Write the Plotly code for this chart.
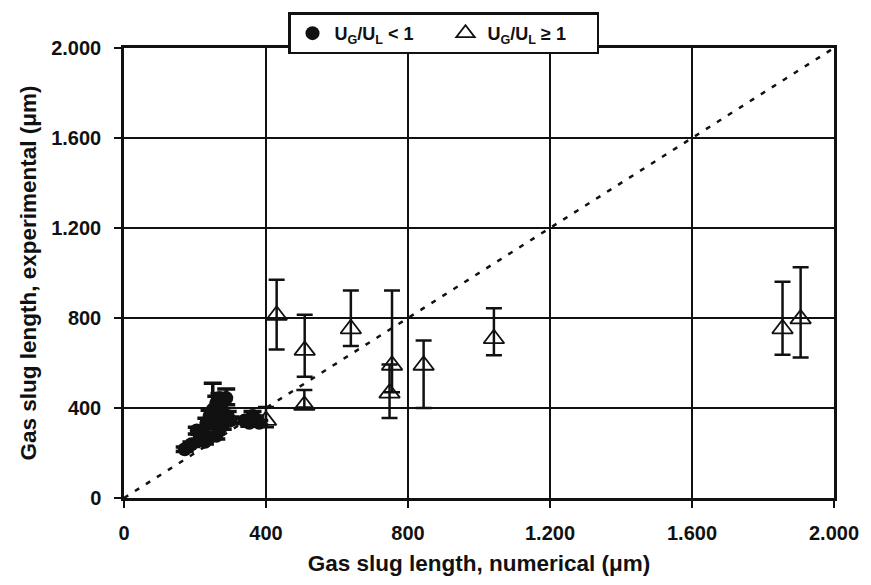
import plotly.graph_objects as go

# U_G/U_L < 1 (filled circles)
circ_x = [171, 190, 213, 222, 232, 241, 250, 260, 269, 288, 292, 278, 260, 362, 353, 381, 228, 245, 275, 300, 340, 370, 205, 265]
circ_y = [217, 239, 268, 299, 334, 365, 393, 422, 444, 444, 365, 321, 277, 365, 334, 334, 250, 330, 400, 345, 345, 350, 300, 360]
circ_up = [10, 10, 15, 20, 20, 25, 117, 30, 20, 40, 20, 15, 15, 20, 15, 10, 10, 20, 30, 15, 10, 15, 15, 20]
circ_dn = [10, 10, 15, 20, 20, 25, 40, 30, 20, 30, 20, 15, 15, 20, 15, 10, 10, 20, 30, 15, 10, 15, 15, 20]

# U_G/U_L >= 1 (open triangles)
tri_x = [430, 509, 639, 755, 748, 508, 844, 1042, 1855, 1906, 400]
tri_y = [812, 656, 752, 590, 466, 412, 590, 708, 752, 796, 345]
tri_up = [158, 159, 170, 332, 127, 68, 110, 135, 209, 230, 60]
tri_dn = [152, 117, 76, 120, 110, 10, 190, 74, 115, 172, 30]

diag = [0, 2000]

FONT = "Liberation Sans, Arial, sans-serif"

fig = go.Figure()

fig.add_trace(go.Scatter(
    x=diag, y=diag, mode="lines", showlegend=False,
    line=dict(color="#111111", width=2.5, dash="5px,8px"),
    hoverinfo="skip",
))

fig.add_trace(go.Scatter(
    x=circ_x, y=circ_y, mode="markers", name="U<sub>G</sub>/U<sub>L</sub> < 1",
    marker=dict(symbol="circle", size=14, color="#111111"),
    error_y=dict(type="data", symmetric=False, array=circ_up, arrayminus=circ_dn,
                 color="#111111", thickness=3.5, width=9),
))

fig.add_trace(go.Scatter(
    x=tri_x, y=tri_y, mode="markers", name="U<sub>G</sub>/U<sub>L</sub> ≥ 1",
    marker=dict(symbol="triangle-up-open", size=18, color="#111111",
                line=dict(width=1.8, color="#111111")),
    error_y=dict(type="data", symmetric=False, array=tri_up, arrayminus=tri_dn,
                 color="#111111", thickness=2.5, width=8),
))

axis_common = dict(
    range=[0, 2000], tickvals=[0, 400, 800, 1200, 1600, 2000],
    tickformat=",.0f",
    showgrid=True, gridcolor="#111111", gridwidth=2,
    showline=True, linecolor="#111111", linewidth=2.5, mirror=True,
    ticks="outside", ticklen=7, tickwidth=2, tickcolor="#111111",
    zeroline=False,
    tickfont=dict(family=FONT, size=20, color="#111111", weight="bold"),
)

fig.update_layout(
    width=871, height=585,
    margin=dict(l=124, r=34, t=46, b=84),
    paper_bgcolor="white", plot_bgcolor="white",
    separators=",.",
    font=dict(family=FONT, color="#111111"),
    xaxis=dict(**axis_common, ticklabelstandoff=8,
               title=dict(text="Gas slug length, numerical (μm)", standoff=13,
                          font=dict(family=FONT, size=22.5, color="#111111", weight="bold"))),
    yaxis=dict(**axis_common, ticklabelstandoff=9,
               title=dict(text="Gas slug length, experimental (μm)", standoff=9,
                          font=dict(family=FONT, size=22.5, color="#111111", weight="bold"))),
    legend=dict(
        orientation="h", x=0.45, xanchor="center", y=1.079, yanchor="top",
        bordercolor="#111111", borderwidth=2.5, bgcolor="white",
        font=dict(family=FONT, size=18, color="#111111", weight="bold"),
        itemwidth=34, entrywidth=104, entrywidthmode="pixels", tracegroupgap=0,
    ),
)

fig.write_html("out.html")
